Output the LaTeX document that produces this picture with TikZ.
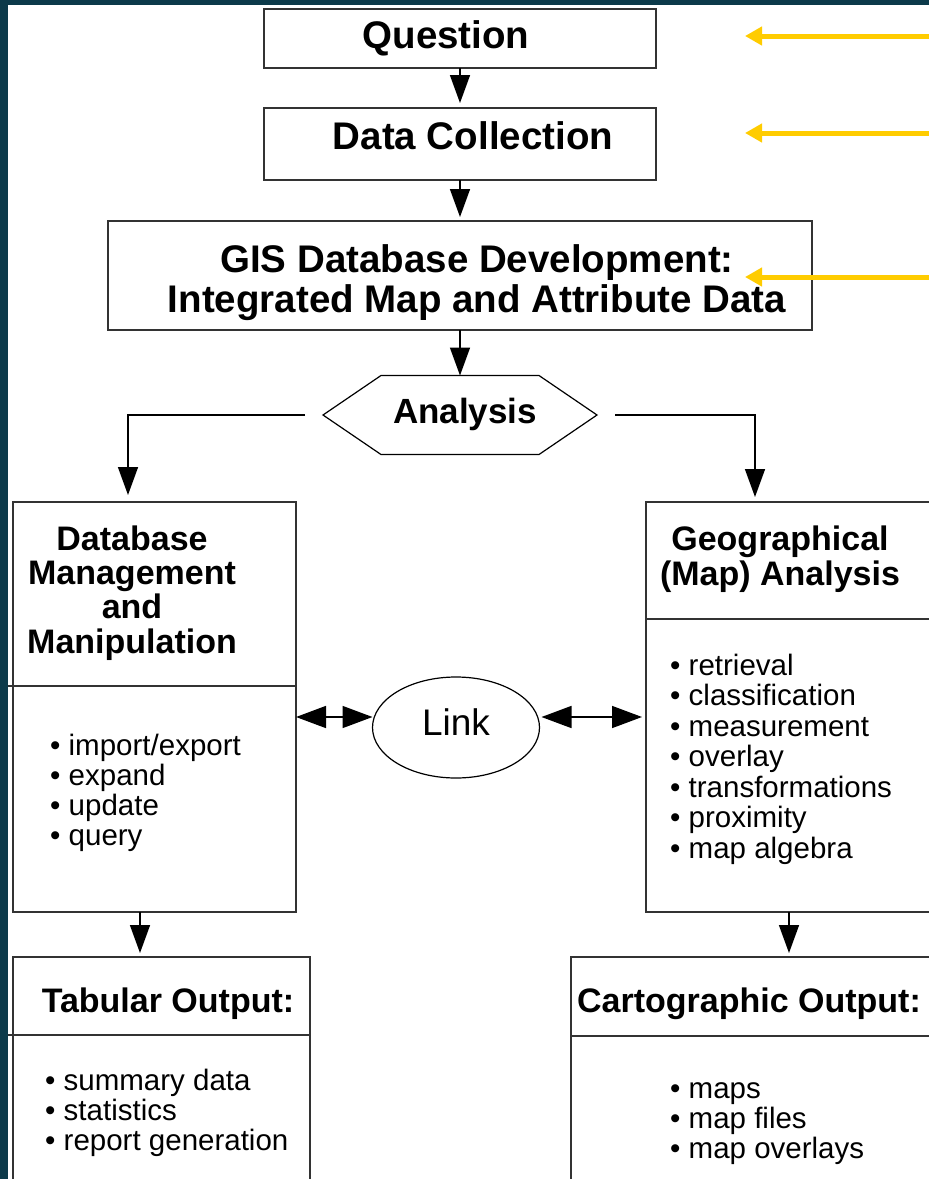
\documentclass[tikz,border=0pt]{standalone}
\usepackage{fontspec}
\setmainfont{Liberation Sans}
\usetikzlibrary{arrows.meta,shapes.geometric,calc}
\definecolor{bgteal}{HTML}{0C3A4A}
\definecolor{goldc}{HTML}{FFCC00}
\definecolor{edgec}{HTML}{333333}
\newcommand\topfnt{\fontsize{38.5}{40}\selectfont\bfseries}
\newcommand\ttlfnt{\fontsize{34}{35}\selectfont\bfseries}
\newcommand\bulfnt{\fontsize{29.5}{30}\selectfont}
\begin{document}
\begin{tikzpicture}[x=1pt,y=-1pt,
  box/.style={draw=edgec, line width=2pt, fill=white, inner sep=0pt, outer sep=0pt, anchor=north west},
  divl/.style={draw=edgec, line width=2pt},
  topt/.style={anchor=base, inner sep=0pt, font=\topfnt},
  ttlt/.style={anchor=base, inner sep=0pt, font=\ttlfnt},
  bult/.style={anchor=base west, inner sep=0pt, font=\bulfnt},
  arr/.style={-{Triangle[length=28pt,width=20pt]}, line width=1.5pt, black},
  dblarr/.style={{Triangle[length=30pt,width=22pt]}-{Triangle[length=30pt,width=22pt]}, line width=1.5pt, black},
  goldarr/.style={-{Triangle[length=17pt,width=18pt]}, line width=5pt, goldc},
  thinl/.style={draw=black, line width=1.2pt}
]
\useasboundingbox (0,0) rectangle (929,1179);
\fill[bgteal] (0,0) rectangle (929,1179);
\fill[white] (8,5) rectangle (929,1179);

% boxes
\node[box, minimum width=392pt, minimum height=59pt] (q) at (264,9) {};
\node[box, minimum width=392pt, minimum height=72pt] (dc) at (264,108) {};
\node[box, minimum width=704pt, minimum height=109pt] (gis) at (108,221) {};
\node[box, minimum width=283pt, minimum height=410pt] (dbm) at (13,502) {};
\node[box, minimum width=300pt, minimum height=410pt] (geo) at (646,502) {};
\node[box, minimum width=297pt, minimum height=240pt] (tab) at (13,957) {};
\node[box, minimum width=380pt, minimum height=240pt] (car) at (571,957) {};

% dividers
\draw[divl] (8,686) -- (296,686);
\draw[divl] (646,619) -- (935,619);
\draw[divl] (8,1035) -- (310,1035);
\draw[divl] (571,1036) -- (935,1036);

% analysis hexagon and link ellipse
\node[inner sep=0pt, outer sep=0pt, minimum width=274pt, minimum height=79pt] (ana) at (460,415) {};
\draw[thinl] (ana.west) -- ($(ana.north west)+(58,0)$) -- ($(ana.north east)+(-58,0)$) -- (ana.east) -- ($(ana.south east)+(-58,0)$) -- ($(ana.south west)+(58,0)$) -- cycle;
\node[ellipse, thinl, fill=white, inner sep=0pt, outer sep=0pt, minimum width=167pt, minimum height=101pt] (link) at (456,727.5) {};

% texts
\node[topt] (qt) at (446,48) {Question};
\node[topt] (dct) at (473,149) {Data Collection};
\node[topt] (gist1) at (477,272) {GIS Database Development:};
\node[topt] (gist2) at (477,312) {Integrated Map and Attribute Data};
\node[anchor=base, inner sep=0pt, font=\fontsize{35}{36}\selectfont\bfseries] (anat) at (465,423) {Analysis};
\node[anchor=base, inner sep=0pt, font=\fontsize{37}{38}\selectfont] (lnkt) at (456,735) {Link};

\node[ttlt] (dbt1) at (132,550) {Database};
\node[ttlt] (dbt2) at (132,584.5) {Management};
\node[ttlt] (dbt3) at (132,618.5) {and};
\node[ttlt] (dbt4) at (132,653) {Manipulation};
\node[ttlt] (gt1) at (780,550) {Geographical};
\node[ttlt] (gt2) at (780,585) {(Map) Analysis};
\node[ttlt] (tt1) at (168,1012) {Tabular Output:};
\node[ttlt] (ct1) at (749,1012) {Cartographic Output:};

\foreach \t [count=\i] in {import/export, expand, update, query}
  \node[bult] (db\i) at (50,725+30*\i) {\textbullet\ \t};
\foreach \t [count=\i] in {retrieval, classification, measurement, overlay, transformations, proximity, map algebra}
  \node[bult] (gb\i) at (670,644.5+30.5*\i) {\textbullet\ \t};
\foreach \t [count=\i] in {summary data, statistics, report generation}
  \node[bult] (tb\i) at (45,1060+30*\i) {\textbullet\ \t};
\foreach \t [count=\i] in {maps, map files, map overlays}
  \node[bult] (cb\i) at (670,1068+30*\i) {\textbullet\ \t};

% connectors
\coordinate (xl) at (128,0);
\coordinate (xr) at (755,0);
\coordinate (xt) at (140,0);
\coordinate (xc) at (789,0);
\coordinate (ly) at (0,717);
\draw[arr, shorten >=5pt] (q.south) -- (dc.north);
\draw[arr, shorten >=4pt] (dc.south) -- (gis.north);
\draw[arr] (gis.south) -- (ana.north);
\draw[arr, shorten <=18pt, shorten >=7pt] (ana.west) -| (dbm.north -| xl);
\draw[arr, shorten <=18pt, shorten >=5pt] (ana.east) -| (geo.north -| xr);
\draw[dblarr] (dbm.east |- ly) -- (link.west |- ly);
\draw[dblarr, shorten >=4pt, shorten <=2pt] (link.east |- ly) -- (geo.west |- ly);
\draw[arr, shorten >=4pt] (dbm.south -| xt) -- (tab.north -| xt);
\draw[arr, shorten >=4pt] (geo.south -| xc) -- (car.north -| xc);

% yellow pointers
\coordinate (g1s) at (929,36);  \coordinate (g1e) at (745,36);
\coordinate (g2s) at (929,133); \coordinate (g2e) at (745,133);
\coordinate (g3s) at (929,277); \coordinate (g3e) at (745,277);
\draw[goldarr] (g1s) -- (g1e);
\draw[goldarr] (g2s) -- (g2e);
\draw[goldarr] (g3s) -- (g3e);
\end{tikzpicture}
\end{document}
